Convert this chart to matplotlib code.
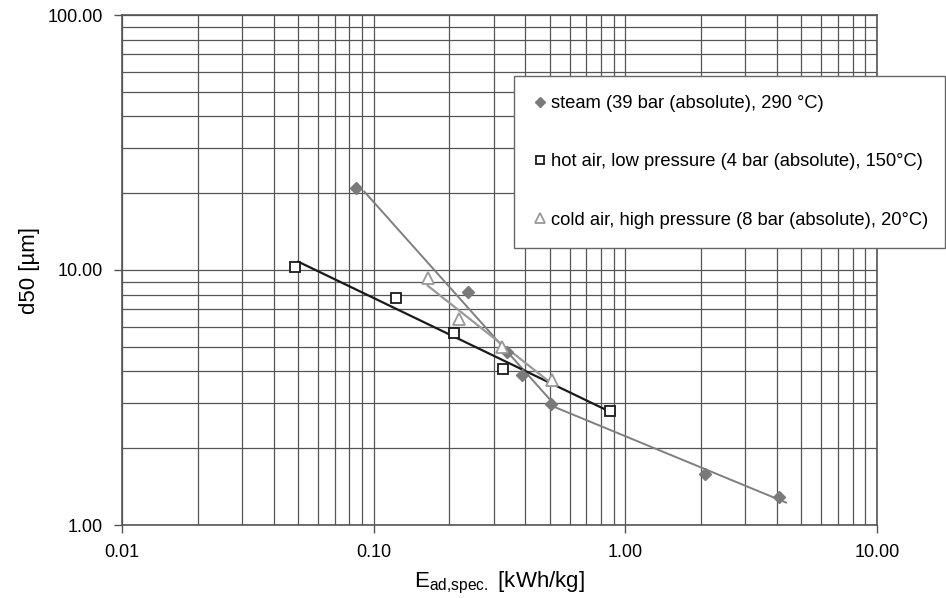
import numpy as np
import matplotlib
matplotlib.use("Agg")
import matplotlib.pyplot as plt
from matplotlib.ticker import LogLocator, FixedLocator, NullFormatter

plt.rcParams['font.family'] = ['Liberation Sans', 'DejaVu Sans']
plt.rcParams['mathtext.fontset'] = 'custom'
plt.rcParams['mathtext.rm'] = 'Liberation Sans'

# data
steam_x = [0.085, 0.237, 0.340, 0.390, 0.506, 2.08, 4.09]
steam_y = [21.0, 8.18, 4.78, 3.87, 2.98, 1.59, 1.29]
hot_x = [0.0487, 0.1227, 0.209, 0.326, 0.866]
hot_y = [10.3, 7.79, 5.68, 4.09, 2.79]
cold_x = [0.164, 0.219, 0.324, 0.511]
cold_y = [9.28, 6.41, 4.98, 3.70]

# trend line ranges (power fits): (first point index, last point index, x start, x end)
steam_fits = [(0, 5, 0.0918, 0.506), (4, 7, 0.506, 4.35)]
hot_fit = (0.0502, 0.866)
cold_fit = (0.164, 0.511)

labels = ['steam (39 bar (absolute), 290 °C)',
          'hot air, low pressure (4 bar (absolute), 150°C)',
          'cold air, high pressure (8 bar (absolute), 20°C)']


def power_line(ax, xs, ys, x0, x1, **kw):
    k, b = np.polyfit(np.log10(xs), np.log10(ys), 1)
    xx = np.array([x0, x1])
    ax.plot(xx, 10 ** (b + k * np.log10(xx)), **kw)


fig = plt.figure(figsize=(9.46, 5.98), dpi=100)
ax = fig.add_axes([122 / 946, 1 - 525 / 598, (877 - 122) / 946, (525 - 15) / 598])
ax.set_xscale('log')
ax.set_yscale('log')
ax.set_xlim(0.01, 10)
ax.set_ylim(1, 100)

# trend lines
for i0, i1, x0, x1 in steam_fits:
    power_line(ax, steam_x[i0:i1], steam_y[i0:i1], x0, x1,
               color='#7f7f7f', lw=1.4, zorder=3)
power_line(ax, hot_x, hot_y, *hot_fit, color='#1a1a1a', lw=1.6, zorder=3)
power_line(ax, cold_x, cold_y, *cold_fit, color='#9a9a9a', lw=1.6, zorder=3)

# markers
ax.plot(steam_x, steam_y, ls='none', marker='D', ms=6, mfc='#7a7a7a',
        mec='#7a7a7a', label=labels[0], zorder=4)
ax.plot(hot_x, hot_y, ls='none', marker='s', ms=7.5, mfc='white',
        mec='#1a1a1a', mew=1.3, label=labels[1], zorder=4)
ax.plot(cold_x, cold_y, ls='none', marker='^', ms=8, mfc='white',
        mec='#999999', mew=1.3, label=labels[2], zorder=4)

# grid on every decade subdivision
ax.xaxis.set_major_locator(FixedLocator([0.01, 0.1, 1, 10]))
ax.yaxis.set_major_locator(FixedLocator([1, 10, 100]))
ax.xaxis.set_minor_locator(LogLocator(base=10, subs=np.arange(2, 10)))
ax.yaxis.set_minor_locator(LogLocator(base=10, subs=np.arange(2, 10)))
ax.xaxis.set_minor_formatter(NullFormatter())
ax.yaxis.set_minor_formatter(NullFormatter())
ax.set_xticklabels(['0.01', '0.10', '1.00', '10.00'])
ax.set_yticklabels(['1.00', '10.00', '100.00'])
ax.grid(True, which='both', color='#555555', lw=0.9)
ax.tick_params(which='major', length=6, width=1, color='#555555',
               labelsize=13, pad=8)
ax.tick_params(which='minor', length=0)
for s in ax.spines.values():
    s.set_color('#555555')
    s.set_linewidth(1.2)

ax.set_xlabel(r'$\mathregular{E_{ad{,}spec.}}$ [kWh/kg]', fontsize=16, labelpad=6)
ax.set_ylabel('d50 [µm]', fontsize=16)
ax.yaxis.set_label_coords(-0.108, 0.5)

leg = ax.legend(loc='upper left',
                bbox_to_anchor=(514 / 946, 0, 431 / 946, 1 - 76 / 598),
                bbox_transform=fig.transFigure, mode='expand',
                fontsize=13.2, frameon=True, fancybox=False, framealpha=1,
                edgecolor='#666666', markerscale=0.85, handlelength=0.7,
                handletextpad=0.25, labelspacing=2.25, borderpad=1.05,
                borderaxespad=0)
leg.get_frame().set_linewidth(1.0)
leg.set_zorder(5)

fig.savefig('out.png', dpi=100)
